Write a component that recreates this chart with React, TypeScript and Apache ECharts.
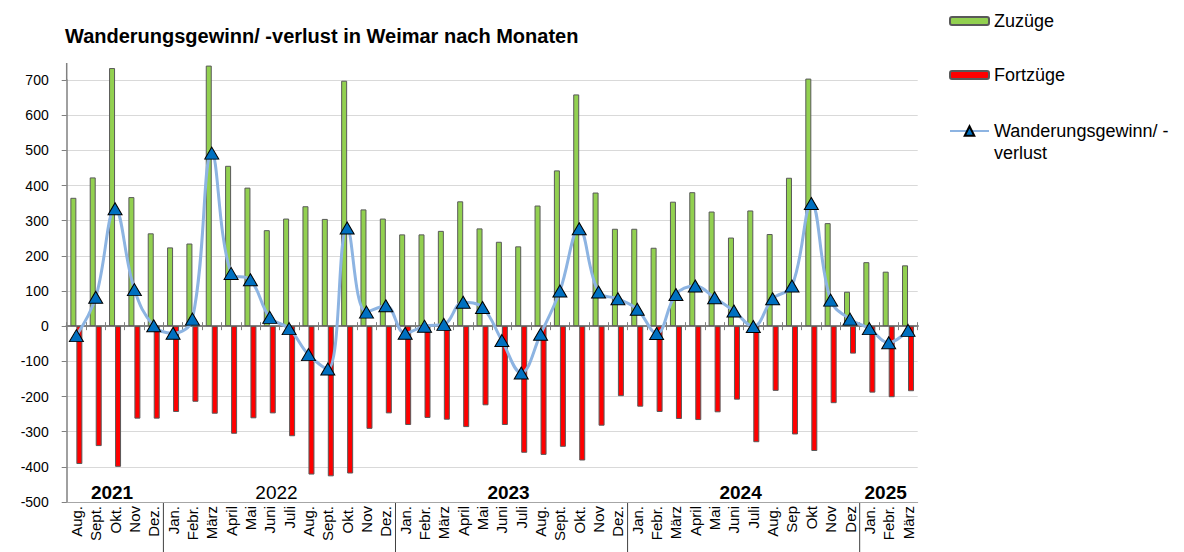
import React, { useEffect, useRef } from 'react';
import * as echarts from 'echarts';

const months = [
  'Aug.', 'Sept.', 'Okt.', 'Nov', 'Dez.',
  'Jan.', 'Febr.', 'März', 'April', 'Mai', 'Juni', 'Juli', 'Aug.', 'Sept.', 'Okt.', 'Nov', 'Dez.',
  'Jan.', 'Febr.', 'März', 'April', 'Mai', 'Juni', 'Juli', 'Aug.', 'Sept.', 'Okt.', 'Nov', 'Dez.',
  'Jan.', 'Febr.', 'März', 'April', 'Mai', 'Juni', 'Juli', 'Aug.', 'Sep', 'Okt', 'Nov', 'Dez',
  'Jan.', 'Febr.', 'März',
];

const zuzuege = [
  365, 423, 734, 367, 264,
  224, 235, 741, 456, 394, 273, 306, 341, 305, 698, 332, 306,
  261, 261, 271, 355, 278, 240, 227, 343, 443, 659, 380, 277,
  277, 223, 354, 381, 326, 252, 329, 262, 422, 704, 293, 98,
  182, 155, 173,
];

const fortzuege = [
  -392, -341, -400, -263, -263,
  -244, -215, -249, -306, -262, -248, -313, -422, -427, -419, -292, -248,
  -281, -261, -266, -287, -225, -281, -360, -366, -343, -382, -283, -199,
  -229, -244, -264, -267, -245, -209, -330, -184, -308, -355, -219, -78,
  -189, -202, -185,
];

const saldo = [
  -27, 82, 334, 104, 1,
  -20, 20, 492, 150, 132, 25, -7, -81, -122, 279, 40, 58,
  -20, 0, 5, 68, 53, -41, -133, -23, 100, 277, 97, 78,
  48, -21, 90, 114, 81, 43, -1, 78, 114, 349, 74, 20,
  -7, -47, -12,
];

const yearLabels = ['2021', '2022', '2023', '2024', '2025'];
const yearStarts = [0, 5, 17, 29, 41];

const yMin = -500;
const yMax = 700;
const yInterval = 100;

const seriesNames = ['Zuzüge', 'Fortzüge', 'Wanderungsgewinn/ -verlust'];

export default function App() {
  const ref = useRef<HTMLDivElement>(null);

  useEffect(() => {
    if (!ref.current) return;
    const chart = echarts.init(ref.current, null, { renderer: 'svg' });
    const font = '"Liberation Sans", Arial, sans-serif';

    const catBase = { type: 'category', data: months, boundaryGap: true };
    const legendText = { fontFamily: font, fontSize: 18, color: '#000' };

    chart.setOption({
      animation: false,
      textStyle: { fontFamily: font, color: '#000' },
      title: {
        text: 'Wanderungsgewinn/ -verlust in Weimar nach Monaten',
        left: 65,
        top: 26,
        padding: 0,
        textStyle: { fontFamily: font, fontSize: 20, fontWeight: 'bold', color: '#000' },
      },
      legend: [
        {
          data: [seriesNames[0]], left: 949, top: 12, padding: 0, orient: 'vertical',
          itemWidth: 39, itemHeight: 8, selectedMode: false,
          textStyle: legendText,
        },
        {
          data: [seriesNames[1]], left: 949, top: 66, padding: 0, orient: 'vertical',
          itemWidth: 39, itemHeight: 8, selectedMode: false,
          textStyle: legendText,
        },
        {
          data: [seriesNames[2]], left: 949, top: 98, padding: 0, orient: 'vertical',
          itemWidth: 39, itemHeight: 12, selectedMode: false,
          formatter: () => '\nWanderungsgewinn/ -\nverlust',
          textStyle: { ...legendText, lineHeight: 22 },
        },
      ],
      grid: { left: 66.7, right: 266.3, top: 80, bottom: 50 },
      xAxis: [
        {
          ...catBase,
          position: 'bottom',
          axisLine: { onZero: false, lineStyle: { color: '#A6A6A6', width: 1 } },
          axisTick: { show: false },
          axisLabel: { rotate: 90, margin: 4, fontSize: 15, color: '#000', interval: 0, fontFamily: font },
          splitLine: { show: false },
        },
        {
          ...catBase,
          position: 'bottom',
          axisLine: { onZero: true, onZeroAxisIndex: 0, lineStyle: { color: '#808080', width: 2 } },
          axisTick: { show: true, length: 4, interval: 0, lineStyle: { color: '#808080', width: 1 } },
          axisLabel: { show: false },
          splitLine: { show: false },
        },
        {
          ...catBase,
          position: 'top',
          axisLine: { onZero: true, onZeroAxisIndex: 0, lineStyle: { color: '#808080', width: 2 } },
          axisTick: { show: true, length: 4, interval: 0, lineStyle: { color: '#808080', width: 1 } },
          axisLabel: { show: false },
          splitLine: { show: false },
        },
      ],
      yAxis: {
        type: 'value',
        min: yMin,
        max: yMax,
        interval: yInterval,
        axisLine: { show: true, lineStyle: { color: '#808080', width: 1.5 } },
        axisTick: { show: true, length: 5, lineStyle: { color: '#808080' } },
        axisLabel: { fontSize: 14, color: '#000', margin: 18, fontFamily: font },
        splitLine: { show: true, lineStyle: { color: '#D9D9D9', width: 1.2 } },
      },
      series: [
        {
          name: seriesNames[0], type: 'bar', data: zuzuege, xAxisIndex: 0,
          barWidth: 6, barGap: '0%', clip: false,
          itemStyle: { color: '#92D050', borderColor: '#595959', borderWidth: 1 },
          z: 2,
        },
        {
          name: seriesNames[1], type: 'bar', data: fortzuege, xAxisIndex: 0,
          barWidth: 6, barGap: '0%', clip: false,
          itemStyle: { color: '#FF0000', borderColor: '#595959', borderWidth: 1 },
          z: 2,
        },
        {
          name: seriesNames[2], type: 'line', data: saldo, xAxisIndex: 0,
          smooth: 0.4,
          symbol: 'triangle', symbolSize: [14, 12],
          itemStyle: { color: '#0070C0', borderColor: '#000', borderWidth: 1 },
          lineStyle: { color: '#8DB4E2', width: 3 },
          z: 5,
        },
      ],
    });

    // Decorations derived from the axis scales
    const px = (i: number) => chart.convertToPixel({ xAxisIndex: 0 }, i) as number;
    const py = (v: number) => chart.convertToPixel({ yAxisIndex: 0 }, v) as number;
    const band = px(1) - px(0);
    const yBottom = py(yMin);
    const yTop = py(yMax);
    const leftEdge = px(0) - band / 2;
    const graphics: any[] = [];
    yearStarts.forEach((s, k) => {
      if (s > 0) {
        const bx = px(s) - band / 2;
        graphics.push({
          type: 'line', silent: true,
          shape: { x1: bx, y1: yBottom, x2: bx, y2: yBottom + 52 },
          style: { stroke: '#404040', lineWidth: 1 },
        });
      }
      const end = k + 1 < yearStarts.length ? yearStarts[k + 1] - 1 : months.length - 1;
      const cx = (px(s) + px(end)) / 2 - 3;
      graphics.push({
        type: 'text', silent: true,
        x: cx, y: yBottom - 10,
        style: {
          text: yearLabels[k], align: 'center', verticalAlign: 'middle',
          fontFamily: font, fontSize: 19, fontWeight: yearLabels[k] === '2022' ? 'normal' : 'bold', fill: '#000',
        },
      });
    });
    graphics.push({
      type: 'line', silent: true,
      shape: { x1: leftEdge, y1: yTop - 17, x2: leftEdge, y2: yTop },
      style: { stroke: '#808080', lineWidth: 1.5 },
    });
    chart.setOption({ graphic: graphics });

    return () => chart.dispose();
  }, []);

  return (
    <div
      ref={ref}
      style={{ position: 'absolute', left: 0, top: 0, width: 1184, height: 552 }}
    />
  );
}
